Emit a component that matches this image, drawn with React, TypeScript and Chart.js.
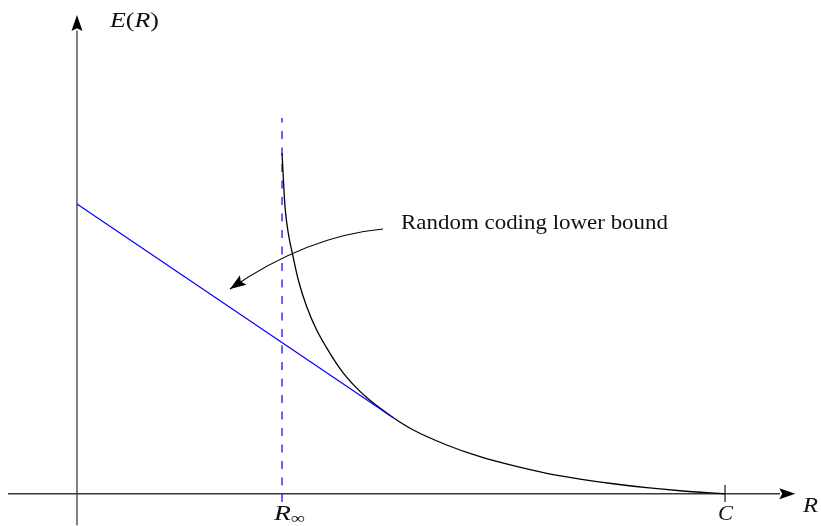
import { useEffect, useRef } from "react";
import { Chart, registerables } from "chart.js";

Chart.register(...registerables);

// Sphere-packing style exponent curve E(R), rate in units of capacity C
const curveR = [
  0.3164, 0.321, 0.3261, 0.3329, 0.3415, 0.3545, 0.3699, 0.3904, 0.409, 0.429,
  0.4475, 0.4676, 0.4881, 0.519, 0.5705, 0.6219, 0.6733, 0.7248, 0.7762, 0.8276,
  0.8792, 0.9306, 1.0,
];
const curveE = [
  0.5253, 0.4429, 0.4019, 0.3684, 0.3298, 0.2886, 0.2526, 0.2167, 0.1889, 0.1657,
  0.1481, 0.1321, 0.1173, 0.0983, 0.0752, 0.0571, 0.0432, 0.0315, 0.0227, 0.0154,
  0.0093, 0.0046, 0.0,
];

// Straight-line random coding lower bound
const boundR = [0, 0.4881];
const boundE = [0.4471, 0.1173];

// Asymptote R_inf and capacity C
const rInfinity = 0.3164;
const asymptoteE = [-0.0128, 0.5798];
const capacity = 1.0;

const annotationText = "Random coding lower bound";

// Visible window in data units (same pixel scale on both axes)
const X_MIN = -0.1188;
const X_MAX = 1.1481;
const Y_MIN = -0.0498;
const Y_MAX = 0.7619;

const SERIF = '"Liberation Serif", "DejaVu Serif", serif';

type Part = { t: string; italic?: boolean; size?: number; dy?: number };

function drawParts(
  ctx: CanvasRenderingContext2D,
  parts: Part[],
  x: number,
  baseline: number,
  targetWidth: number,
  baseSize: number
) {
  const fontOf = (p: Part) =>
    `${p.italic ? "italic " : ""}${p.size ?? baseSize}px ${SERIF}`;
  let natural = 0;
  for (const p of parts) {
    ctx.font = fontOf(p);
    natural += ctx.measureText(p.t).width;
  }
  const sx = targetWidth / natural;
  ctx.save();
  ctx.translate(x, baseline);
  ctx.scale(sx, 1);
  ctx.textBaseline = "alphabetic";
  ctx.textAlign = "left";
  ctx.fillStyle = "#111";
  let cx = 0;
  for (const p of parts) {
    ctx.font = fontOf(p);
    ctx.fillText(p.t, cx, p.dy ?? 0);
    cx += ctx.measureText(p.t).width;
  }
  ctx.restore();
}

function arrowHead(
  ctx: CanvasRenderingContext2D,
  tipX: number,
  tipY: number,
  dirX: number,
  dirY: number,
  len = 16,
  half = 5.5
) {
  const n = Math.hypot(dirX, dirY);
  const ux = dirX / n;
  const uy = dirY / n;
  const bx = tipX - ux * len;
  const by = tipY - uy * len;
  ctx.beginPath();
  ctx.moveTo(tipX, tipY);
  ctx.lineTo(bx - uy * half, by + ux * half);
  ctx.lineTo(tipX - ux * len * 0.82, tipY - uy * len * 0.82);
  ctx.lineTo(bx + uy * half, by - ux * half);
  ctx.closePath();
  ctx.fill();
}

const axesPlugin = {
  id: "diagramAxes",
  beforeDatasetsDraw(chart: Chart) {
    const ctx = chart.ctx;
    const xs = chart.scales.x;
    const ys = chart.scales.y;
    const px = (v: number) => xs.getPixelForValue(v);
    const py = (v: number) => ys.getPixelForValue(v);
    ctx.save();
    ctx.strokeStyle = "#3a3a3a";
    ctx.fillStyle = "#000";
    ctx.lineWidth = 1.3;
    // horizontal R axis
    ctx.beginPath();
    ctx.moveTo(px(-0.1065), py(0));
    ctx.lineTo(px(1.085), py(0));
    ctx.stroke();
    arrowHead(ctx, px(1.1085), py(0), 1, 0);
    // vertical E axis
    ctx.beginPath();
    ctx.moveTo(px(0), py(-0.0485));
    ctx.lineTo(px(0), py(0.715));
    ctx.stroke();
    arrowHead(ctx, px(0), py(0.7387), 0, -1);
    ctx.restore();
  },
  afterDatasetsDraw(chart: Chart) {
    const ctx = chart.ctx;
    const xs = chart.scales.x;
    const ys = chart.scales.y;
    const px = (v: number) => xs.getPixelForValue(v);
    const py = (v: number) => ys.getPixelForValue(v);
    ctx.save();

    // tick at C
    ctx.strokeStyle = "#000";
    ctx.lineWidth = 1.1;
    ctx.beginPath();
    ctx.moveTo(px(capacity), py(0.0135));
    ctx.lineTo(px(capacity), py(-0.0128));
    ctx.stroke();

    // curved pointer to the lower bound
    const sx = px(0.4722), sy = py(0.4085);
    const cx = px(0.3549), cy = py(0.3977);
    const tx = px(0.2361), ty = py(0.3159);
    ctx.lineWidth = 1.2;
    ctx.beginPath();
    ctx.moveTo(sx, sy);
    ctx.quadraticCurveTo(cx, cy, tx, ty);
    ctx.stroke();
    ctx.fillStyle = "#000";
    arrowHead(ctx, tx, ty, tx - cx, ty - cy, 16, 5.8);

    // labels
    drawParts(ctx, [{ t: annotationText }], px(0.5), py(0.4085), 267, 21);
    drawParts(
      ctx,
      [
        { t: "E", italic: true },
        { t: "(" },
        { t: "R", italic: true },
        { t: ")" },
      ],
      px(0.0509),
      py(0.7202),
      49,
      21
    );
    drawParts(ctx, [{ t: "R", italic: true }], px(1.1204), py(-0.0285), 15, 21);
    drawParts(
      ctx,
      [
        { t: "R", italic: true },
        { t: "\u221E", size: 15, dy: 3.5 },
      ],
      px(rInfinity) - 8,
      py(-0.0399),
      31,
      21
    );
    drawParts(ctx, [{ t: "C", italic: true }], px(capacity) - 7, py(-0.0405), 15, 21);
    ctx.restore();
  },
};

export default function App() {
  const ref = useRef<HTMLCanvasElement | null>(null);

  useEffect(() => {
    if (!ref.current) return;
    const boundPts = boundR.map((r, i) => ({ x: r, y: boundE[i] }));
    const curvePts = curveR.map((r, i) => ({ x: r, y: curveE[i] }));
    const asymptotePts = asymptoteE.map((e) => ({ x: rInfinity, y: e }));

    const chart = new Chart(ref.current, {
      type: "line",
      data: {
        datasets: [
          {
            data: boundPts,
            borderColor: "#0000ff",
            borderWidth: 1.2,
            pointRadius: 0,
            tension: 0,
            clip: false,
          },
          {
            data: curvePts,
            borderColor: "#000",
            borderWidth: 1.3,
            pointRadius: 0,
            cubicInterpolationMode: "monotone",
            clip: false,
          },
          {
            data: asymptotePts,
            borderColor: "#0000ff",
            borderWidth: 1.2,
            borderDash: [8, 8.5],
            pointRadius: 0,
            clip: false,
          },
        ],
      },
      options: {
        animation: false,
        responsive: false,
        devicePixelRatio: 1,
        events: [],
        layout: { padding: 0 },
        parsing: true,
        scales: {
          x: { type: "linear", min: X_MIN, max: X_MAX, display: false },
          y: { type: "linear", min: Y_MIN, max: Y_MAX, display: false },
        },
        plugins: {
          legend: { display: false },
          tooltip: { enabled: false },
        },
      },
      plugins: [axesPlugin],
    });
    return () => chart.destroy();
  }, []);

  return (
    <div
      style={{
        position: "absolute",
        left: 0,
        top: 0,
        width: 821,
        height: 526,
        background: "#fff",
      }}
    >
      <canvas ref={ref} width={821} height={526} style={{ display: "block" }} />
    </div>
  );
}
